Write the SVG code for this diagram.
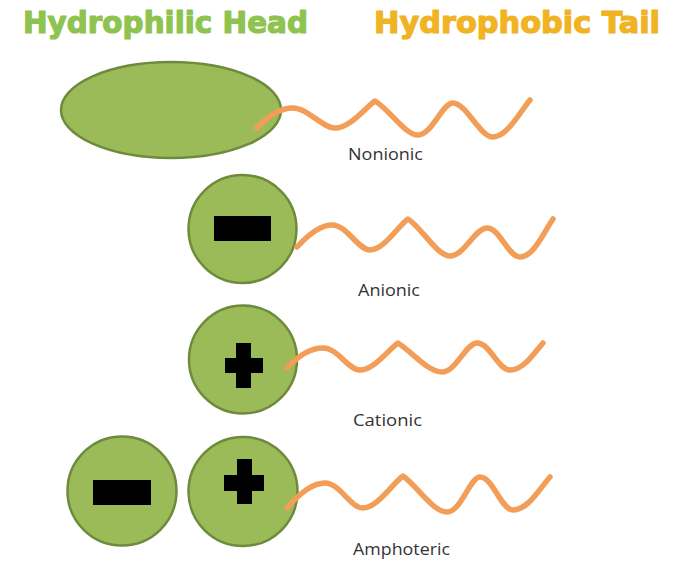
<svg xmlns="http://www.w3.org/2000/svg" width="673" height="561" viewBox="0 0 673 561">
  <style>
    .title { font-family: "DejaVu Sans", "Liberation Sans", sans-serif; font-weight: bold; font-size: 30px; stroke-width: 1.2; stroke-linejoin: round; }
    .head { fill: #9bbb59; stroke: #6e8b3d; stroke-width: 2.5; }
    .sign { fill: #000000; }
    .tail { fill: none; stroke: #f29d58; stroke-width: 5.5; stroke-linecap: round; stroke-linejoin: round; }
    .label { font-family: "Open Sans", "Noto Sans", sans-serif; font-size: 17px; fill: #333333; }
  </style>
  <rect width="673" height="561" fill="#ffffff"/>

  <g id="titles">
    <text class="title" x="23" y="33" fill="#8fc350" stroke="#8fc350" textLength="285" lengthAdjust="spacingAndGlyphs">Hydrophilic Head</text>
    <text class="title" x="374" y="33" fill="#f0b324" stroke="#f0b324" textLength="286" lengthAdjust="spacingAndGlyphs">Hydrophobic Tail</text>
  </g>

  <g id="nonionic">
    <ellipse class="head" cx="171" cy="110" rx="110" ry="48"/>
    <text class="label" x="348" y="160" textLength="75" lengthAdjust="spacingAndGlyphs">Nonionic</text>
  </g>

  <g id="anionic">
    <circle class="head" cx="242.5" cy="229" r="54"/>
    <rect class="sign" x="214" y="216" width="57" height="25"/>
    <text class="label" x="358" y="296" textLength="62" lengthAdjust="spacingAndGlyphs">Anionic</text>
  </g>

  <g id="cationic">
    <circle class="head" cx="243" cy="359.5" r="54"/>
    <rect class="sign" x="236" y="343" width="15" height="45"/>
    <rect class="sign" x="225" y="358" width="38" height="15"/>
    <text class="label" x="353" y="426" textLength="69" lengthAdjust="spacingAndGlyphs">Cationic</text>
  </g>

  <g id="amphoteric">
    <circle class="head" cx="122" cy="491" r="54.5"/>
    <rect class="sign" x="93" y="480" width="58" height="25"/>
    <circle class="head" cx="243" cy="491.5" r="54.5"/>
    <rect class="sign" x="237" y="459" width="15" height="45"/>
    <rect class="sign" x="224" y="475" width="40" height="16"/>
    <text class="label" x="353" y="555" textLength="97" lengthAdjust="spacingAndGlyphs">Amphoteric</text>
  </g>

  <g id="tails">
    <path class="tail" d="M257,128 C268,116 280,108 293,108 C308,108 322,128 335,128 C350,128 365,108 375,101 C390,110 405,135 418,135 C432,135 442,103 453,103 C466,103 480,137 493,137 C507,137 520,112 530,100"/>
    <path class="tail" d="M297,247 C308,235 320,225 332,225 C347,225 358,250 370,250 C384,250 398,226 408,219 C422,228 437,256 450,256 C464,256 475,228 487,228 C500,228 508,257 520,257 C534,257 545,230 553,219"/>
    <path class="tail" d="M287,368 C298,356 310,348 323,348 C338,348 348,370 360,370 C374,370 388,350 398,343 C412,352 428,372 442,372 C456,372 466,343 477,343 C490,343 498,370 510,370 C524,370 535,352 543,343"/>
    <path class="tail" d="M287,508 C299,494 312,483 325,483 C340,483 350,508 363,508 C377,508 392,484 403,476 C417,486 433,512 447,512 C461,512 470,477 480,477 C493,477 501,510 513,510 C528,510 540,488 550,477"/>
  </g>
</svg>
